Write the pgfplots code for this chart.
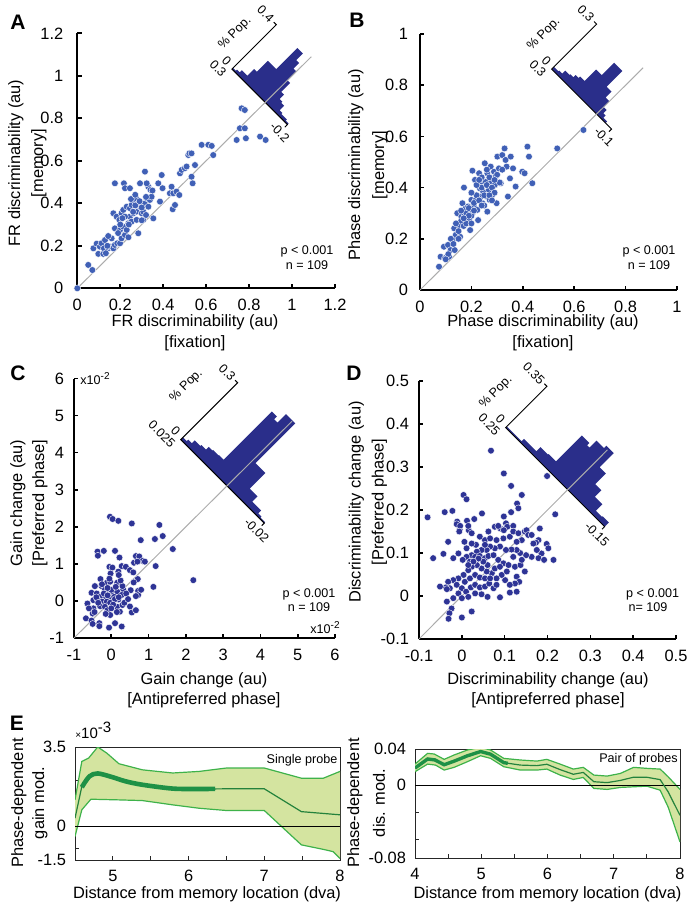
\documentclass[border=0pt]{standalone}
\usepackage{fontspec}
\setmainfont{Liberation Sans}
\usepackage{pgfplots}
\pgfplotsset{compat=1.18}
\definecolor{scatA}{RGB}{64,96,182}
\definecolor{scatC}{RGB}{46,52,150}
\definecolor{histc}{RGB}{42,46,138}
\definecolor{bandfill}{RGB}{212,228,160}
\definecolor{bandline}{RGB}{62,178,74}
\definecolor{meanline}{RGB}{36,130,60}
\definecolor{thickline}{RGB}{30,145,70}
\newcommand{\lab}{\fontsize{8.2}{10}\selectfont}
\newcommand{\sml}{\fontsize{6.3}{7.5}\selectfont}
\pgfplotsset{
  /pgf/number format/assume math mode=true,
  mainax/.style={scale only axis, anchor=south west, clip=false,
    axis x line*=bottom, axis y line*=left,
    axis line style={line width=1pt},
    tick align=inside, major tick length=2.2pt,
    tick style={black, line width=0.8pt},
    ticklabel style={font=\lab},
    yticklabel style={xshift=-1.5pt},
    xticklabel style={yshift=-2pt},
    scaled ticks=false},
  inset/.style={hide axis, clip=false, anchor=origin, scaled ticks=false},
  eax/.style={scale only axis, anchor=south west,
    axis line style={line width=0.5pt, black!85},
    tick align=inside, major tick length=2pt,
    tick style={black!85, line width=0.5pt}, tick pos=left,
    ticklabel style={font=\lab},
    yticklabel style={xshift=-1pt},
    xticklabel style={yshift=-1.5pt},
    scaled ticks=false},
  dotsA/.style={only marks, mark=*, mark size=1.7pt, mark options={fill=scatA, draw=white, line width=0.2pt}},
  dotsC/.style={only marks, mark=*, mark size=1.7pt, mark options={fill=scatC, draw=white, line width=0.2pt}},
  unity/.style={gray!65, line width=0.5pt},
}
\tikzset{il/.style={font=\sml, inner sep=0.6pt}}
\begin{document}
\begin{tikzpicture}
\useasboundingbox (0,0) rectangle (347pt,-456.5pt);

% ---------- insets (rotated histograms of y - x) ----------
% A
\begin{axis}[inset, at={(132.6pt,-51.2pt)}, x={(-55.51pt,55.51pt)}, y={(55.51pt,55.51pt)},
  xmin=-0.2, xmax=0.3, ymin=0, ymax=0.4]
\addplot[fill=histc, draw=none] coordinates {
(-0.2,0) (-0.2,0.01) (-0.175,0.01) (-0.175,0.02) (-0.125,0.02) (-0.125,0.03) (-0.1,0.03)
(-0.1,0.07) (-0.075,0.07) (-0.075,0.08) (-0.05,0.08) (-0.05,0.12) (-0.025,0.12)
(-0.025,0.2) (0,0.2) (0,0.28) (0.025,0.28) (0.025,0.33) (0.05,0.33) (0.05,0.39)
(0.1,0.39) (0.1,0.2) (0.175,0.2) (0.175,0.1) (0.2,0.1) (0.2,0.04) (0.25,0.04)
(0.25,0.02) (0.275,0.02) (0.275,0.01) (0.3,0.01) (0.3,0)};
\addplot[black, line width=0.5pt] coordinates {(0.323,0.4) (0.3,0.4) (0.3,0) (-0.2,0) (-0.2,-0.023)};
\node[il, rotate=-45, anchor=east] at (axis cs:0.33,0.4) {0.4};
\node[il, rotate=-45, anchor=east] at (axis cs:0.33,0.015) {0};
\node[il, rotate=-45, anchor=north east] at (axis cs:0.3,-0.02) {0.3};
\node[il, rotate=-45, anchor=north] at (axis cs:-0.2,-0.03) {-0.2};
\node[il, rotate=45] at (axis cs:0.447,0.175) {\% Pop.};
\end{axis}
% B
\begin{axis}[inset, at={(298.3pt,-57.05pt)}, x={(-74.95pt,74.95pt)}, y={(74.95pt,74.95pt)},
  xmin=-0.1, xmax=0.3, ymin=0, ymax=0.3]
\addplot[fill=histc, draw=none] coordinates {
(-0.1,0) (-0.06,0) (-0.06,0.01) (-0.035,0.01) (-0.035,0.025) (-0.02,0.025) (-0.02,0.047)
(0,0.047) (0,0.085) (0.025,0.085) (0.025,0.125) (0.058,0.125) (0.058,0.23) (0.113,0.23)
(0.113,0.147) (0.15,0.147) (0.15,0.07) (0.18,0.07) (0.18,0.06) (0.2,0.06) (0.2,0.045)
(0.22,0.045) (0.22,0.04) (0.25,0.04) (0.25,0.02) (0.27,0.02) (0.27,0.015) (0.3,0.015) (0.3,0)};
\addplot[black, line width=0.5pt] coordinates {(0.317,0.3) (0.3,0.3) (0.3,0) (-0.1,0) (-0.1,-0.017)};
\node[il, rotate=-45, anchor=east] at (axis cs:0.322,0.3) {0.3};
\node[il, rotate=-45, anchor=east] at (axis cs:0.322,0.011) {0};
\node[il, rotate=-45, anchor=north east] at (axis cs:0.3,-0.015) {0.3};
\node[il, rotate=-45, anchor=north] at (axis cs:-0.1,-0.022) {-0.1};
\node[il, rotate=45] at (axis cs:0.4415,0.09) {\% Pop.};
\end{axis}
% C
\begin{axis}[inset, at={(113.55pt,-243pt)}, x={(-927.4pt,927.4pt)}, y={(94.75pt,94.75pt)},
  xmin=-0.02, xmax=0.025, ymin=0, ymax=0.3]
\addplot[fill=histc, draw=none] coordinates {
(-0.02,0) (-0.02,0.005) (-0.0175,0.005) (-0.0175,0.01) (-0.0158,0.01) (-0.0158,0.025)
(-0.011,0.025) (-0.011,0.053) (-0.0068,0.053) (-0.0068,0.135) (-0.0015,0.135)
(-0.0015,0.345) (0.0035,0.345) (0.0035,0.30) (0.0053,0.30) (0.0053,0.315) (0.008,0.315)
(0.008,0.06) (0.0105,0.06) (0.0105,0.058) (0.0135,0.058) (0.0135,0.055) (0.0155,0.055)
(0.0155,0.04) (0.018,0.04) (0.018,0.035) (0.021,0.035) (0.021,0.02) (0.023,0.02)
(0.023,0.012) (0.025,0.012) (0.025,0)};
\addplot[black, line width=0.5pt] coordinates {(0.02637,0.3) (0.025,0.3) (0.025,0) (-0.02,0) (-0.02,-0.0134)};
\node[il, rotate=-45, anchor=east] at (axis cs:0.0267,0.3) {0.3};
\node[il, rotate=-45, anchor=east] at (axis cs:0.0267,0.009) {0};
\node[il, rotate=-45, anchor=north east] at (axis cs:0.025,-0.012) {0.025};
\node[il, rotate=-45, anchor=north] at (axis cs:-0.02,-0.017) {-0.02};
\node[il, rotate=45] at (axis cs:0.038,0.157) {\% Pop.};
\end{axis}
% D
\begin{axis}[inset, at={(283.75pt,-244.75pt)}, x={(-123.74pt,123.74pt)}, y={(59.04pt,59.04pt)},
  xmin=-0.15, xmax=0.25, ymin=0, ymax=0.35]
\addplot[fill=histc, draw=none] coordinates {
(-0.15,0) (-0.15,0.035) (-0.125,0.035) (-0.125,0.03) (-0.1,0.03) (-0.1,0.085)
(-0.07,0.085) (-0.07,0.14) (-0.045,0.14) (-0.045,0.23) (-0.02,0.23) (-0.02,0.35)
(0.01,0.35) (0.01,0.33) (0.04,0.33) (0.04,0.27) (0.05,0.27) (0.05,0.29) (0.08,0.29)
(0.08,0.07) (0.11,0.07) (0.11,0.065) (0.14,0.065) (0.14,0.03) (0.19,0.03) (0.19,0.01)
(0.25,0.01) (0.25,0)};
\addplot[black, line width=0.5pt] coordinates {(0.2603,0.35) (0.25,0.35) (0.25,0) (-0.15,0) (-0.15,-0.0216)};
\node[il, rotate=-45, anchor=east] at (axis cs:0.263,0.35) {0.35};
\node[il, rotate=-45, anchor=east] at (axis cs:0.263,0.0144) {0};
\node[il, rotate=-45, anchor=north east] at (axis cs:0.25,-0.019) {0.25};
\node[il, rotate=-45, anchor=north] at (axis cs:-0.15,-0.028) {-0.15};
\node[il, rotate=45] at (axis cs:0.3414,0.11) {\% Pop.};
\end{axis}

% ---------- A ----------
\begin{axis}[mainax, at={(38.65pt,-144.15pt)}, width=128.85pt, height=127.5pt,
  xmin=0, xmax=1.2, ymin=0, ymax=1.2, yticklabel style={xshift=-2pt},
  xtick={0,0.2,0.4,0.6,0.8,1,1.2}, xticklabels={0,0.2,0.4,0.6,0.8,1,1.2},
  ytick={0,0.2,0.4,0.6,0.8,1,1.2}, yticklabels={0,0.2,0.4,0.6,0.8,1,1.2}]
\addplot[unity] coordinates {(0,0) (1.09,1.09)};
\addplot[dotsA] coordinates {
(0,0) (0.051,0.11) (0.07,0.086) (0.075,0.188) (0.09,0.21) (0.105,0.196) (0.098,0.162)
(0.121,0.162) (0.113,0.212) (0.129,0.227) (0.124,0.188) (0.144,0.188) (0.133,0.165)
(0.152,0.196) (0.168,0.188) (0.16,0.235) (0.144,0.246) (0.175,0.204) (0.186,0.212)
(0.199,0.212) (0.175,0.282) (0.168,0.353) (0.183,0.337) (0.175,0.494) (0.206,0.353)
(0.196,0.322) (0.214,0.369) (0.199,0.275) (0.214,0.29) (0.206,0.235) (0.222,0.251)
(0.23,0.275) (0.238,0.306) (0.245,0.337) (0.222,0.337) (0.23,0.384) (0.245,0.377)
(0.217,0.494) (0.222,0.471) (0.245,0.471) (0.253,0.392) (0.261,0.353) (0.253,0.314)
(0.238,0.24) (0.269,0.408) (0.276,0.361) (0.273,0.424) (0.276,0.322) (0.292,0.384)
(0.3,0.353) (0.284,0.259) (0.292,0.494) (0.315,0.4) (0.307,0.361) (0.323,0.424)
(0.331,0.478) (0.323,0.494) (0.315,0.549) (0.307,0.322) (0.32,0.345) (0.331,0.384)
(0.338,0.416) (0.346,0.431) (0.341,0.463) (0.354,0.329) (0.377,0.494) (0.385,0.408)
(0.393,0.533) (0.397,0.471) (0.431,0.447) (0.439,0.478) (0.444,0.372) (0.455,0.392)
(0.447,0.447) (0.462,0.455) (0.475,0.439) (0.478,0.541) (0.486,0.557) (0.501,0.565)
(0.509,0.573) (0.517,0.627) (0.522,0.635) (0.532,0.635) (0.532,0.525) (0.537,0.494)
(0.548,0.58) (0.579,0.675) (0.61,0.675) (0.626,0.67) (0.633,0.627) (0.742,0.698)
(0.757,0.753) (0.765,0.847) (0.78,0.839) (0.78,0.753) (0.785,0.706) (0.851,0.714)
(0.877,0.698) (0.27,0.39) (0.25,0.42) (0.29,0.41) (0.21,0.33) (0.2,0.3) (0.32,0.43)
(0.19,0.26) (0.26,0.36) (0.24,0.3) (0.3,0.38) (0.35,0.46) (0.14,0.2) (0.3,0.32) (0.27,0.44)};
\end{axis}

% ---------- B ----------
\begin{axis}[mainax, at={(210pt,-145pt)}, width=128.5pt, height=128pt,
  xmin=0, xmax=1, ymin=0, ymax=1, yticklabel style={xshift=-1pt},
  xtick={0,0.2,0.4,0.6,0.8,1}, xticklabels={0,0.2,0.4,0.6,0.8,1},
  ytick={0,0.2,0.4,0.6,0.8,1}, yticklabels={0,0.2,0.4,0.6,0.8,1}]
\addplot[unity] coordinates {(0,0) (0.868,0.868)};
\addplot[dotsA] coordinates {
(0.074,0.091) (0.08,0.13) (0.093,0.169) (0.097,0.124) (0.109,0.176) (0.113,0.13)
(0.119,0.156) (0.13,0.202) (0.133,0.241) (0.135,0.156) (0.139,0.215) (0.145,0.3)
(0.152,0.254) (0.156,0.208) (0.161,0.286) (0.165,0.339) (0.171,0.4) (0.171,0.3)
(0.174,0.26) (0.178,0.319) (0.184,0.28) (0.187,0.326) (0.191,0.273) (0.195,0.234)
(0.197,0.306) (0.2,0.352) (0.204,0.466) (0.204,0.3) (0.21,0.326) (0.214,0.43)
(0.217,0.352) (0.223,0.313) (0.226,0.273) (0.23,0.456) (0.233,0.397) (0.236,0.365)
(0.24,0.423) (0.243,0.339) (0.246,0.384) (0.252,0.495) (0.256,0.423) (0.259,0.365)
(0.262,0.306) (0.262,0.456) (0.268,0.391) (0.271,0.352) (0.275,0.482) (0.278,0.423)
(0.281,0.371) (0.288,0.462) (0.291,0.41) (0.294,0.443) (0.298,0.339) (0.301,0.521)
(0.307,0.475) (0.314,0.417) (0.32,0.527) (0.329,0.553) (0.333,0.508) (0.337,0.482)
(0.342,0.365) (0.35,0.436) (0.353,0.521) (0.362,0.475) (0.372,0.404) (0.398,0.462)
(0.407,0.456) (0.418,0.56) (0.424,0.521) (0.437,0.417) (0.534,0.553) (0.636,0.625)
(0.16,0.27) (0.17,0.25) (0.18,0.3) (0.19,0.32) (0.2,0.29) (0.21,0.34) (0.22,0.37)
(0.23,0.35) (0.24,0.4) (0.25,0.37) (0.26,0.41) (0.27,0.44) (0.28,0.4) (0.29,0.38)
(0.3,0.45) (0.24,0.44) (0.22,0.41) (0.2,0.38) (0.18,0.26) (0.15,0.23) (0.14,0.26)
(0.12,0.2) (0.11,0.14) (0.1,0.12) (0.16,0.31) (0.19,0.29) (0.25,0.33) (0.27,0.37)
(0.31,0.42) (0.26,0.47) (0.23,0.43) (0.21,0.31) (0.17,0.28) (0.28,0.35) (0.32,0.47)
(0.15,0.2) (0.13,0.18) (0.2,0.26) (0.24,0.33) (0.29,0.43)};
\end{axis}

% ---------- C ----------
\begin{axis}[mainax, at={(37pt,-319pt)}, width=130.5pt, height=129.75pt,
  xmin=-1, xmax=6, ymin=-1, ymax=6,
  xtick={-1,0,1,2,3,4,5,6}, xticklabels={-1,0,1,2,3,4,5,6},
  ytick={-1,0,1,2,3,4,5,6}, yticklabels={-1,0,1,2,3,4,5,6}]
\addplot[unity] coordinates {(-1,-1) (4.85,4.85)};
\addplot[dotsC] coordinates {
(-0.035,2.27) (0.037,2.21) (0.19,2.16) (0.55,2.09) (1.29,2.05) (1.38,1.75) (0.79,1.64)
(1.17,1.67) (1.65,1.4) (-0.37,1.33) (-0.36,1.22) (-0.2,1.35) (0.1,1.35) (0.22,1.17)
(0.66,1.21) (0.75,1.2) (0.84,1.08) (0.9,1.06) (0.61,1.03) (0.7,1.06) (-0.05,0.92)
(0.03,0.9) (0.28,0.94) (0.39,0.92) (0.5,0.83) (0.59,0.77) (0.19,0.79) (-0.02,0.74)
(1.19,0.94) (-0.29,0.59) (0.71,0.59) (-0.12,0.49) (-0.03,0.52) (0.16,0.49) (1.13,0.38)
(2.2,0.56) (-0.44,0.4) (-0.26,0.4) (0.32,0.31) (0.52,0.29) (0.72,0.27) (0.72,0.16)
(0.66,0.13) (-0.53,0.22) (-0.39,0.2) (-0.17,0.31) (-0.05,0.31) (0.05,0.22) (0.16,0.25)
(0.28,0.16) (-0.3,0.11) (-0.14,0.11) (-0.03,0.1) (0.08,0.11) (0.19,0.04) (-0.48,0.02)
(-0.36,0.02) (-0.24,-0.02) (-0.12,-0.02) (-0.03,-0.05) (-0.64,-0.07) (-0.3,-0.14)
(-0.17,-0.16) (0.04,-0.14) (0.16,-0.16) (0.3,-0.11) (-0.48,-0.2) (-0.1,-0.25)
(0.23,-0.29) (0.55,-0.31) (0.66,-0.25) (-0.5,-0.34) (-0.03,-0.38) (-0.68,-0.47)
(-0.53,-0.53) (-0.32,-0.6) (-0.5,-0.62) (-0.32,-0.68) (-0.06,-0.72) (0.1,-0.6)
(0.28,-0.69) (-0.2,0.2) (0,0.3) (0.1,0.05) (-0.1,0.15) (0.2,0.1) (-0.4,0.1) (0.3,0.4)
(0.4,0.2) (-0.25,0.45) (0.05,-0.1) (-0.15,-0.35) (0.35,-0.05) (0.12,0.38) (-0.05,0.6)
(0.25,0.55) (-0.35,-0.05) (0.45,0.05) (0,-0.2) (-0.45,-0.3) (0.15,-0.3) (0.6,0.5)
(0.8,0.3) (-0.1,0.35) (0.2,0.7) (0.5,-0.15) (-0.6,-0.2)};
\end{axis}

% ---------- D ----------
\begin{axis}[mainax, at={(209.5pt,-319.5pt)}, width=128.5pt, height=129pt,
  xmin=-0.1, xmax=0.5, ymin=-0.1, ymax=0.5,
  xtick={-0.1,0,0.1,0.2,0.3,0.4,0.5}, xticklabels={-0.1,0,0.1,0.2,0.3,0.4,0.5},
  ytick={-0.1,0,0.1,0.2,0.3,0.4,0.5}, yticklabels={-0.1,0,0.1,0.2,0.3,0.4,0.5}]
\addplot[unity] coordinates {(-0.1,-0.1) (0.34,0.34)};
\addplot[dotsC] coordinates {
(0.068,0.338) (0.098,0.285) (0.115,0.256) (0.004,0.235) (0.011,0.225) (0.14,0.235)
(0.199,0.279) (0.129,0.215) (0.132,0.204) (-0.08,0.183) (-0.04,0.195) (-0.022,0.198)
(0.047,0.192) (0.098,0.185) (0.115,0.195) (0.218,0.19) (-0.011,0.173) (0.012,0.175)
(0.029,0.179) (-0.005,0.155) (0.016,0.153) (0.077,0.161) (0.09,0.157)
(0.015,0.163) (-0.012,0.167) (-0.004,0.163) (-0.006,0.15) (-0.032,0.126) (-0.067,0.088)
(-0.043,0.098) (-0.02,0.088) (-0.008,0.099) (0.006,0.126) (0.023,0.146) (0.033,0.119)
(0.042,0.138) (0.054,0.13) (0.066,0.134) (0.085,0.163) (0.103,0.169) (0.106,0.161)
(0.112,0.138) (0.098,0.153) (0.12,0.163) (0.12,0.15) (0.132,0.146) (0.14,0.13)
(0.147,0.15) (0.151,0.153) (0.155,0.142) (0.163,0.142) (0.182,0.157) (0.179,0.13)
(0.173,0.124) (0.198,0.121) (0.202,0.111) (0.186,0.099) (0.214,0.084) (0.179,0.088)
(0.163,0.091) (0.15,0.095) (0.136,0.1) (0.128,0.107) (0.116,0.108) (0.103,0.107)
(0.089,0.115) (0.077,0.111) (0.066,0.115) (0.058,0.107) (0.046,0.107) (0.035,0.103)
(0.023,0.095) (0.011,0.091) (0.002,0.084) (0.019,0.08) (0.031,0.091) (0.042,0.093)
(0.054,0.088) (0.062,0.093) (0.074,0.095) (0.085,0.084) (0.097,0.076) (0.109,0.072)
(0.124,0.068) (0.137,0.072) (0.147,0.057) (0.128,0.045) (0.134,0.033) (0.124,0.029)
(0.112,0.026) (0.101,0.037) (0.093,0.049) (0.081,0.041) (0.07,0.053) (0.058,0.057)
(0.046,0.064) (0.035,0.072) (0.023,0.068) (0.015,0.06) (0.004,0.049) (-0.008,0.041)
(-0.02,0.037) (-0.032,0.033) (-0.037,0.02) (-0.028,0.018) (-0.012,0.026) (0,0.018)
(0.01,0.01) (0.021,0.02) (0.031,0.026) (0.042,0.02) (0.054,0.022) (0.064,0.029)
(0.074,0.018) (0.081,0.026) (0.015,-0.002) (0.031,0.006) (0.046,0.004) (0.06,-0.002)
(0.089,-0.003) (0.112,0.008) (0.128,0.01) (-0.008,0.006) (0,-0.005) (-0.02,-0.005)
(-0.035,-0.013) (-0.024,-0.029) (-0.029,-0.04) (-0.031,-0.053) (0,-0.05) (0.023,-0.036)
(-0.051,0.022) (-0.035,0.016) (0.007,0.033) (0.019,0.041) (0.031,0.049) (0.042,0.043)
(0.054,0.041) (0.066,0.041) (0.077,0.064) (0.089,0.068) (0.105,0.057) (0.06,0.072)
(0.05,0.08) (0.039,0.087) (0.027,0.08) (0.015,0.072) (0.011,0.111) (0.023,0.122)
(0.054,0.119) (0.081,0.13) (0.097,0.134) (0.062,0.15) (0.128,0.126) (0.167,0.122)
(0.175,0.107) (0.192,0.084) (0.14,0.084) (0.12,0.091)};
\end{axis}

% ---------- E left ----------
\begin{axis}[eax, at={(37.5pt,-430pt)}, width=132.5pt, height=56.5pt,
  xmin=4.5, xmax=8, ymin=-1.5, ymax=3.5,
  xtick={4.5,5,5.5,6,6.5,7,7.5,8}, xticklabels={,5,,6,,7,,8},
  ytick={-1.5,-1,0,1,2,3.5}, yticklabels={-1.5,,0,,,3.5}]
\addplot[fill=bandfill, draw=none] coordinates {
(4.5,1.16) (4.59,2.86) (4.68,3.01) (4.8,3.5) (4.92,3.23) (5.08,2.76) (5.39,2.49)
(5.79,2.35) (6.14,2.42) (6.5,2.57) (7.0,2.57) (7.49,2.12) (7.78,2.12) (8.0,2.42)
(8.0,-1.43) (7.91,-1.13) (7.78,-1.03) (7.49,-0.83) (7.0,0.69) (6.5,0.69) (6.14,0.79)
(5.79,0.94) (5.39,1.13) (5.08,1.16) (4.71,1.19) (4.59,0.72) (4.5,-0.46)};
\addplot[bandline, line width=0.6pt] coordinates {
(4.5,1.16) (4.59,2.86) (4.68,3.01) (4.8,3.5) (4.92,3.23) (5.08,2.76) (5.39,2.49)
(5.79,2.35) (6.14,2.42) (6.5,2.57) (7.0,2.57) (7.49,2.12) (7.78,2.12) (8.0,2.42)};
\addplot[bandline, line width=0.6pt] coordinates {
(4.5,-0.46) (4.59,0.72) (4.71,1.19) (5.08,1.16) (5.39,1.13) (5.79,0.94) (6.14,0.79)
(6.5,0.69) (7.0,0.69) (7.49,-0.83) (7.78,-1.03) (7.91,-1.13) (8.0,-1.43)};
\addplot[black, line width=0.6pt] coordinates {(4.5,0) (8,0)};
\addplot[meanline, line width=0.6pt] coordinates {
(4.5,0.35) (4.59,1.75) (4.69,2.23) (4.8,2.35) (4.99,2.17) (5.17,1.98) (5.39,1.83)
(5.79,1.64) (6.14,1.64) (6.5,1.65) (7.0,1.65) (7.49,0.64) (8.0,0.5)};
\addplot[thickline, line width=2.3pt, smooth, tension=0.5] coordinates {
(4.59,1.72) (4.69,2.2) (4.8,2.33) (4.99,2.17) (5.17,1.98) (5.39,1.83) (5.79,1.66)
(6.14,1.64) (6.35,1.65)};
\end{axis}

% ---------- E right ----------
\begin{axis}[eax, at={(207.5pt,-429pt)}, width=132.5pt, height=54.5pt,
  xmin=4, xmax=8, ymin=-0.08, ymax=0.04,
  xtick={4,4.5,5,5.5,6,6.5,7,7.5,8}, xticklabels={4,,5,,6,,7,,8},
  ytick={-0.08,-0.06,-0.03,0,0.04}, yticklabels={-0.08,,,0,0.04}]
\addplot[fill=bandfill, draw=none] coordinates {
(4.0,0.0234) (4.19,0.0352) (4.29,0.0345) (4.44,0.0286) (4.59,0.0334) (4.79,0.0389)
(4.99,0.0418) (5.14,0.0389) (5.34,0.0297) (5.59,0.0279) (5.84,0.0267) (5.99,0.0286)
(6.19,0.0234) (6.39,0.0179) (6.54,0.0198) (6.7,0.0113) (6.9,0.0102) (7.1,0.0131)
(7.3,0.0198) (7.5,0.0187) (7.7,0.0179) (7.82,0.0095) (8.0,-0.0045)
(8.0,-0.0623) (7.82,-0.0237) (7.7,-0.0053) (7.5,-0.0009) (7.3,-0.0016) (7.1,-0.0023)
(6.9,-0.0045) (6.7,-0.0034) (6.54,0.0087) (6.39,0.0065) (6.19,0.0113) (5.99,0.0179)
(5.84,0.0168) (5.59,0.0168) (5.34,0.0205) (5.14,0.0297) (4.99,0.0326) (4.79,0.026)
(4.59,0.0198) (4.44,0.0168) (4.31,0.0223) (4.19,0.0234) (4.0,0.015)};
\addplot[bandline, line width=0.6pt] coordinates {
(4.0,0.0234) (4.19,0.0352) (4.29,0.0345) (4.44,0.0286) (4.59,0.0334) (4.79,0.0389)
(4.99,0.0418) (5.14,0.0389) (5.34,0.0297) (5.59,0.0279) (5.84,0.0267) (5.99,0.0286)
(6.19,0.0234) (6.39,0.0179) (6.54,0.0198) (6.7,0.0113) (6.9,0.0102) (7.1,0.0131)
(7.3,0.0198) (7.5,0.0187) (7.7,0.0179) (7.82,0.0095) (8.0,-0.0045)};
\addplot[bandline, line width=0.6pt] coordinates {
(4.0,0.015) (4.19,0.0234) (4.31,0.0223) (4.44,0.0168) (4.59,0.0198) (4.79,0.026)
(4.99,0.0326) (5.14,0.0297) (5.34,0.0205) (5.59,0.0168) (5.84,0.0168) (5.99,0.0179)
(6.19,0.0113) (6.39,0.0065) (6.54,0.0087) (6.7,-0.0034) (6.9,-0.0045) (7.1,-0.0023)
(7.3,-0.0016) (7.5,-0.0009) (7.7,-0.0053) (7.82,-0.0237) (8.0,-0.0623)};
\addplot[black, line width=0.6pt] coordinates {(4,0) (8,0)};
\addplot[meanline, line width=0.6pt] coordinates {
(4.0,0.019) (4.19,0.029) (4.3,0.028) (4.44,0.0227) (4.59,0.0266) (4.79,0.0325)
(4.99,0.0372) (5.14,0.0343) (5.34,0.025) (5.59,0.0223) (5.84,0.0217) (5.99,0.0232)
(6.19,0.0173) (6.39,0.0122) (6.54,0.0142) (6.7,0.004) (6.9,0.003) (7.1,0.0054)
(7.3,0.009) (7.5,0.0089) (7.7,0.0063) (7.82,-0.007) (8.0,-0.033)};
\addplot[thickline, line width=1.7pt] coordinates {
(4.0,0.019) (4.19,0.029) (4.3,0.028) (4.44,0.0227) (4.59,0.0266) (4.79,0.0325)
(4.99,0.0372) (5.14,0.0343) (5.34,0.025) (5.4,0.0243)};
\end{axis}

% ---------- text ----------
\begin{scope}[every node/.style={inner sep=0pt}]
\node[font=\fontsize{10.5}{12}\selectfont\bfseries] at (9pt,-11pt) {A};
\node[font=\fontsize{10.5}{12}\selectfont\bfseries] at (178.5pt,-10pt) {B};
\node[font=\fontsize{10.5}{12}\selectfont\bfseries] at (9pt,-186.5pt) {C};
\node[font=\fontsize{10.5}{12}\selectfont\bfseries] at (177pt,-186.5pt) {D};
\node[font=\fontsize{10.5}{12}\selectfont\bfseries] at (8.5pt,-361.5pt) {E};

\node[font=\lab] at (97.5pt,-161pt) {FR discriminability (au)};
\node[font=\lab] at (97.5pt,-171.5pt) {[fixation]};
\node[font=\lab,rotate=90] at (8pt,-81.5pt) {FR discriminability (au)};
\node[font=\lab,rotate=90] at (19.5pt,-81.5pt) {[memory]};

\node[font=\lab] at (271.5pt,-161pt) {Phase discriminability (au)};
\node[font=\lab] at (271.5pt,-171.5pt) {[fixation]};
\node[font=\lab,rotate=90] at (178pt,-82.5pt) {Phase discriminability (au)};
\node[font=\lab,rotate=90] at (190pt,-82.5pt) {[memory]};

\node[font=\lab] at (102pt,-340pt) {Gain change (au)};
\node[font=\lab] at (102pt,-350pt) {[Antipreferred phase]};
\node[font=\lab,rotate=90] at (9pt,-251.5pt) {Gain change (au)};
\node[font=\lab,rotate=90] at (20pt,-251.5pt) {[Preferred phase]};

\node[font=\lab] at (274pt,-340pt) {Discriminability change (au)};
\node[font=\lab] at (274pt,-350pt) {[Antipreferred phase]};
\node[font=\lab,rotate=90] at (178.25pt,-251pt) {Discriminability change (au)};
\node[font=\lab,rotate=90] at (189.75pt,-251pt) {[Preferred phase]};

\node[font=\lab] at (103.5pt,-447pt) {Distance from memory location (dva)};
\node[font=\lab,rotate=90] at (9.5pt,-401.5pt) {Phase-dependent};
\node[font=\lab,rotate=90] at (20pt,-401.5pt) {gain mod.};
\node[font=\lab] at (273.75pt,-447pt) {Distance from memory location (dva)};
\node[font=\lab,rotate=90] at (177.5pt,-401.5pt) {Phase-dependent};
\node[font=\lab,rotate=90] at (189.5pt,-401.5pt) {dis. mod.};

\node[font=\sml] at (153.5pt,-125.5pt) {p < 0.001};
\node[font=\sml] at (153.5pt,-132.5pt) {n = 109};
\node[font=\sml] at (324.5pt,-125.5pt) {p < 0.001};
\node[font=\sml] at (324.5pt,-132.5pt) {n = 109};
\node[font=\sml] at (154.5pt,-297pt) {p < 0.001};
\node[font=\sml] at (154.5pt,-303.5pt) {n = 109};
\node[font=\sml] at (326.3pt,-297pt) {p < 0.001};
\node[font=\sml] at (324pt,-303.5pt) {n= 109};

\node[font=\sml, anchor=base west] at (40pt,-192.5pt) {x10\raisebox{2.5pt}{\fontsize{5}{6}\selectfont -2}};
\node[font=\sml, anchor=base east] at (170pt,-316.5pt) {x10\raisebox{2.5pt}{\fontsize{5}{6}\selectfont -2}};
\node[anchor=base west] at (37.5pt,-369pt) {{\fontsize{5}{6}\selectfont ×}{\fontsize{7.5}{9}\selectfont 10\raisebox{3pt}{-3}}};

\node[font=\sml] at (151pt,-380pt) {Single probe};
\node[font=\sml] at (319.25pt,-379.5pt) {Pair of probes};
\end{scope}
\end{tikzpicture}
\end{document}
